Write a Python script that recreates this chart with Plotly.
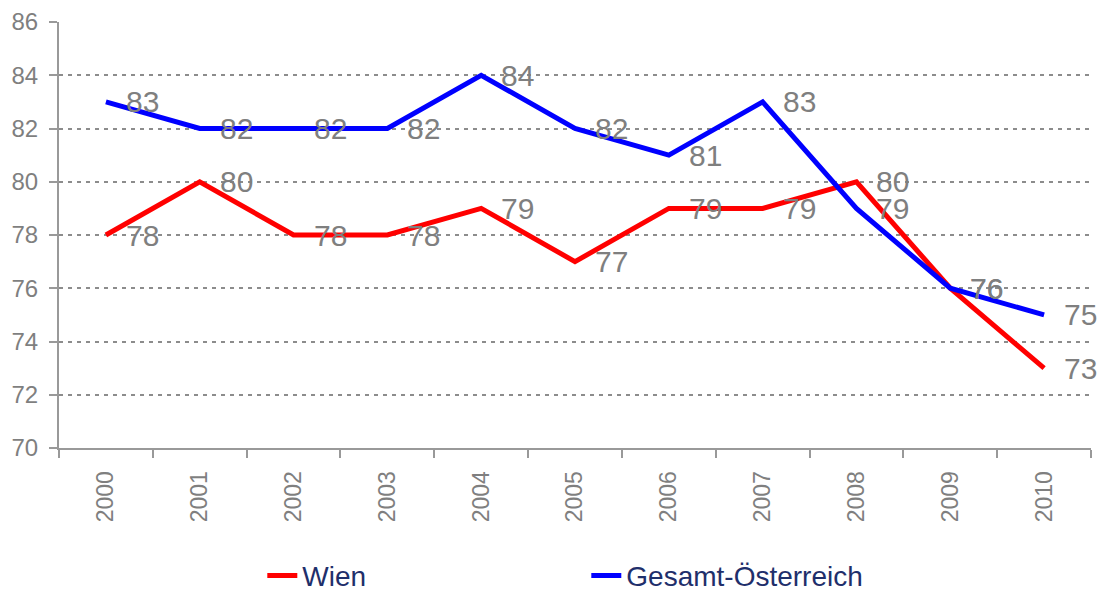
import plotly.graph_objects as go

years = ["2000", "2001", "2002", "2003", "2004", "2005", "2006", "2007", "2008", "2009", "2010"]
wien = [78, 80, 78, 78, 79, 77, 79, 79, 80, 76, 73]
gesamt = [83, 82, 82, 82, 84, 82, 81, 83, 79, 76, 75]

GRAY = "#7f7f7f"
FONT = "Liberation Sans, Arial, sans-serif"

fig = go.Figure()
fig.add_trace(go.Scatter(x=years, y=wien, mode="lines", name="Wien",
                         line=dict(color="#ff0000", width=5)))
fig.add_trace(go.Scatter(x=years, y=gesamt, mode="lines", name="Gesamt-Österreich",
                         line=dict(color="#0000ff", width=5)))

annotations = []
for series in (wien, gesamt):
    for i, v in enumerate(series):
        annotations.append(dict(x=i, y=v, xref="x", yref="y", text=str(v),
                                showarrow=False, xanchor="left", yanchor="middle",
                                xshift=18,
                                font=dict(family=FONT, size=30, color=GRAY)))

fig.update_layout(
    width=1109, height=594,
    margin=dict(l=59, r=18, t=22, b=146, autoexpand=False),
    paper_bgcolor="white", plot_bgcolor="white",
    font=dict(family=FONT, color=GRAY),
    annotations=annotations,
    showlegend=True,
    legend=dict(orientation="h", x=0.197, y=-0.30, xanchor="left", yanchor="middle",
                entrywidth=279, entrywidthmode="pixels",
                font=dict(family=FONT, size=28, color="#1f2f6b")),
    xaxis=dict(type="category", range=[-0.5, 10.5], tickson="boundaries",
               ticks="outside", ticklen=8, tickcolor="#999999", tickwidth=2,
               showline=True, linecolor="#999999", linewidth=2,
               showgrid=False, tickangle=-90, ticklabelstandoff=12,
               tickfont=dict(family=FONT, size=23, color=GRAY)),
    yaxis=dict(range=[70, 86], dtick=2, tick0=70,
               ticks="outside", ticklen=8, tickcolor="#999999", tickwidth=2,
               showline=True, linecolor="#999999", linewidth=2,
               showgrid=True, gridcolor="#8c8c8c", gridwidth=2, griddash="4px,5px",
               zeroline=False, ticklabelstandoff=6,
               tickfont=dict(family=FONT, size=24, color=GRAY)),
)

fig.write_html("out.html", config={"displayModeBar": False},
               post_script="document.body.style.margin='0';")
